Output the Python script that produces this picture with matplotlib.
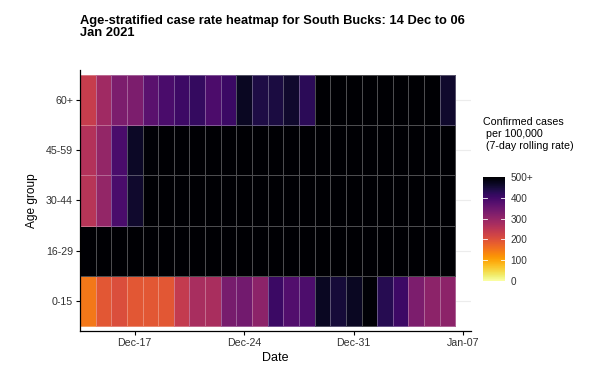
import matplotlib

matplotlib.use("Agg")
import matplotlib.pyplot as plt
import matplotlib.dates as mdates
import numpy as np
import pandas as pd

plt.rcParams["font.family"] = ["Liberation Sans", "DejaVu Sans"]

# Fechas y grupos de edad
dates = pd.date_range("2020-12-14", "2021-01-06", freq="D")
age_groups = ["0-15", "16-29", "30-44", "45-59", "60+"]

# Tasas de casos por 100.000 (500 = 500+)
rate_0_15 = [150, 190, 205, 190, 190, 190, 240, 275, 272, 335, 340, 310,
             408, 380, 385, 470, 450, 470, 495, 430, 405, 330, 310, 310]
rate_16_29 = [500] * 24
rate_30_44 = [255, 300, 390, 460] + [500] * 20
rate_45_59 = [260, 300, 390, 465, 495] + [500] * 19
rate_60p = [235, 285, 330, 330, 370, 390, 405, 415, 388, 408, 470, 440,
            445, 460, 425, 500, 500, 500, 500, 500, 500, 500, 500, 460]

rates = np.array([rate_0_15, rate_16_29, rate_30_44, rate_45_59, rate_60p])

fig = plt.figure(figsize=(5.89, 3.72), dpi=100)
fig.patch.set_facecolor("white")
ax = fig.add_axes([80 / 589, 1 - 331 / 372, 391 / 589, 261 / 372])

xnum = mdates.date2num(dates)
xedges = np.append(xnum - 0.5, xnum[-1] + 0.5)
yedges = np.arange(len(age_groups) + 1) - 0.5

# lineas de rejilla horizontales
for i in range(len(age_groups)):
    ax.axhline(i, color="#ececec", lw=0.8, zorder=0)

mesh = ax.pcolormesh(xedges, yedges, rates, cmap="inferno_r", vmin=0, vmax=500,
                     edgecolors=(1, 1, 1, 0.3), linewidth=0.6, zorder=2)

ax.set_xlim(xnum[0] - 0.5, xnum[0] + 24.5)
ax.set_ylim(-0.6, len(age_groups) - 0.4)
ax.set_yticks(range(len(age_groups)))
ax.set_yticklabels(age_groups)

tick_dates = pd.to_datetime(["2020-12-17", "2020-12-24", "2020-12-31", "2021-01-07"])
ax.set_xticks(mdates.date2num(tick_dates))
ax.set_xticklabels([d.strftime("%b-%d") for d in tick_dates])

for s in ["top", "right"]:
    ax.spines[s].set_visible(False)
for s in ["left", "bottom"]:
    ax.spines[s].set_linewidth(0.9)
ax.tick_params(axis="both", length=3, width=0.8, labelsize=7.7, colors="black",
               labelcolor="#333333", pad=2)

ax.set_xlabel("Date", fontsize=9, labelpad=3)
ax.set_ylabel("Age group", fontsize=8.6, labelpad=6)

fig.text(80 / 589, 1 - 15 / 372,
         "Age-stratified case rate heatmap for South Bucks: 14 Dec to 06\nJan 2021",
         fontsize=9.3, fontweight="bold", ha="left", va="top", linespacing=1.0)

# Barra de color
cax = fig.add_axes([483 / 589, 1 - 281 / 372, 22 / 589, 104 / 372])
cb = fig.colorbar(mesh, cax=cax)
cb.outline.set_visible(False)
cb.set_ticks([0, 100, 200, 300, 400, 500])
cb.set_ticklabels(["0", "100", "200", "300", "400", "500+"])
cax.tick_params(length=0, labelsize=7.2, labelcolor="#333333", pad=4)
for t in [100, 200, 300, 400]:
    cax.plot([0, 0.2], [t, t], color="white", lw=0.6, transform=cax.get_yaxis_transform())
    cax.plot([0.8, 1], [t, t], color="white", lw=0.6, transform=cax.get_yaxis_transform())

fig.text(483 / 589, 1 - 117 / 372,
         "Confirmed cases\n per 100,000\n (7-day rolling rate)",
         fontsize=7.7, ha="left", va="top", linespacing=1.25)

fig.savefig("out.png", dpi=100, facecolor="white")
